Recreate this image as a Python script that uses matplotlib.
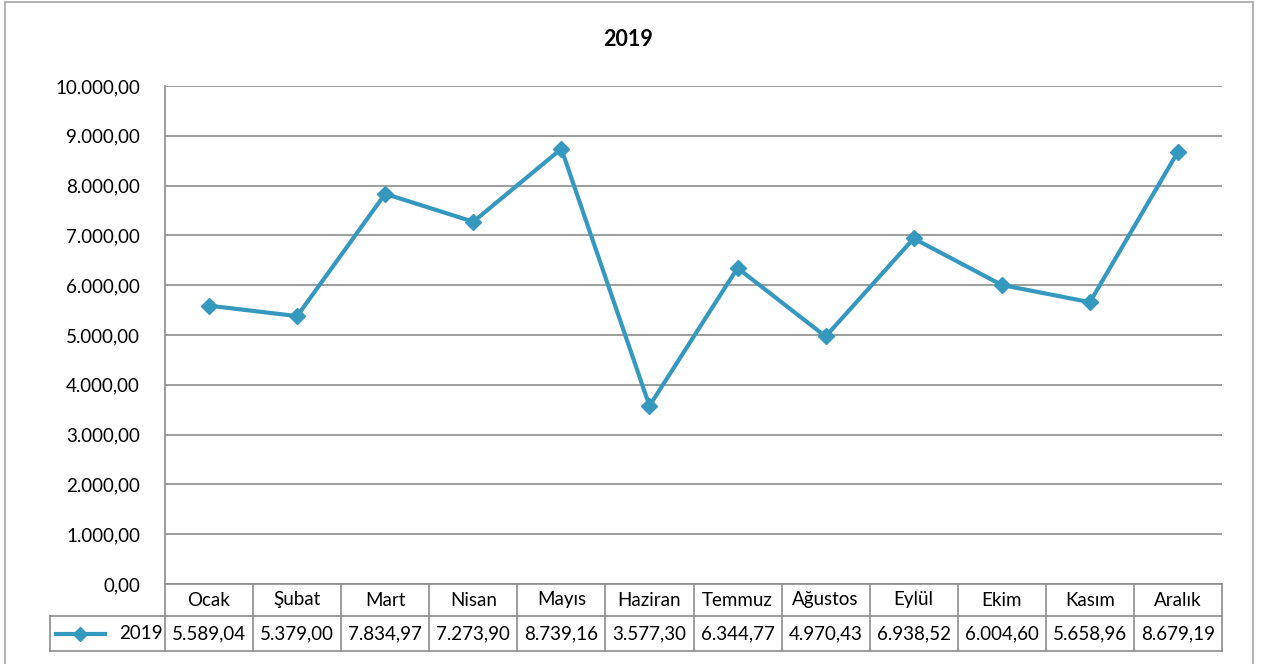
import numpy as np
import matplotlib.pyplot as plt
from matplotlib.patches import Rectangle
from matplotlib.lines import Line2D
from matplotlib.ticker import FuncFormatter

plt.rcParams['font.family'] = ['Lato', 'DejaVu Sans']

months = ["Ocak", "Şubat", "Mart", "Nisan", "Mayıs", "Haziran",
          "Temmuz", "Ağustos", "Eylül", "Ekim", "Kasım", "Aralık"]
values = [5589.04, 5379.00, 7834.97, 7273.90, 8739.16, 3577.30,
          6344.77, 4970.43, 6938.52, 6004.60, 5658.96, 8679.19]
series_name = "2019"
yticks = np.arange(0, 10001, 1000)

line_color = "#3598BE"
grid_color = "#8C8C8C"
fsize = 13.5


def tr_fmt(v, pos=None):
    s = f"{v:,.2f}"
    return s.replace(",", "X").replace(".", ",").replace("X", ".")


W, H = 1262, 664
fig = plt.figure(figsize=(W / 100, H / 100), dpi=100)

# outer chart border
fig.patches.append(Rectangle((5 / W, -0.05), (1253 - 5) / W, 1.05 - 2 / H,
                             transform=fig.transFigure, fill=False,
                             edgecolor="#A6A6A6", linewidth=1.2))

left, right, top, bottom = 165, 1222, 86, 584
ax = fig.add_axes([left / W, 1 - bottom / H, (right - left) / W, (bottom - top) / H])

x = np.arange(len(months))
ax.plot(x, values, color=line_color, linewidth=3, marker="D", markersize=8,
        markeredgecolor=line_color, zorder=3)

ax.set_xlim(-0.5, len(months) - 0.5)
ax.set_ylim(0, 10000)
ax.set_yticks(yticks)
ax.yaxis.set_major_formatter(FuncFormatter(tr_fmt))
ax.tick_params(axis="y", length=0, pad=18, labelsize=fsize)
ax.set_xticks([])
ax.grid(axis="y", color=grid_color, linewidth=1.2)
ax.set_axisbelow(True)
for s in ["top", "right", "bottom"]:
    ax.spines[s].set_visible(False)
ax.spines["left"].set_color(grid_color)
ax.spines["left"].set_linewidth(1.2)

fig.text(628 / W, 1 - 40 / H, "2019", ha="center", va="center",
         fontsize=15.5, fontweight="bold")

# data table below the plot
ph = bottom - top
r1 = -(616 - bottom) / ph
r2 = -(651 - bottom) / ph
leg_x = (50 - left) / (right - left) * len(months) - 0.5
tr = ax.get_xaxis_transform()
kw = dict(transform=tr, color=grid_color, linewidth=1.2, clip_on=False)

ax.add_line(Line2D([-0.5, len(months) - 0.5], [0, 0], **kw))
ax.add_line(Line2D([leg_x, len(months) - 0.5], [r1, r1], **kw))
ax.add_line(Line2D([leg_x, len(months) - 0.5], [r2, r2], **kw))
ax.add_line(Line2D([leg_x, leg_x], [r1, r2], **kw))
for i in range(len(months) + 1):
    ax.add_line(Line2D([i - 0.5, i - 0.5], [0, r2], **kw))

for i, (m, v) in enumerate(zip(months, values)):
    ax.text(i, r1 / 2, m, transform=tr, ha="center", va="center", fontsize=fsize)
    ax.text(i, (r1 + r2) / 2, tr_fmt(v), transform=tr, ha="center",
            va="center", fontsize=fsize)

# legend key in the table
ymid = (r1 + r2) / 2
kx0 = leg_x + 0.07
kx1 = leg_x + 0.62
ax.add_line(Line2D([kx0, kx1], [ymid, ymid], transform=tr, color=line_color,
                   linewidth=3, clip_on=False))
ax.add_line(Line2D([(kx0 + kx1) / 2], [ymid], transform=tr, color=line_color,
                   marker="D", markersize=7, clip_on=False))
ax.text(-0.53, ymid, series_name, transform=tr, ha="right", va="center",
        fontsize=fsize)

fig.savefig("out.png", dpi=100)
